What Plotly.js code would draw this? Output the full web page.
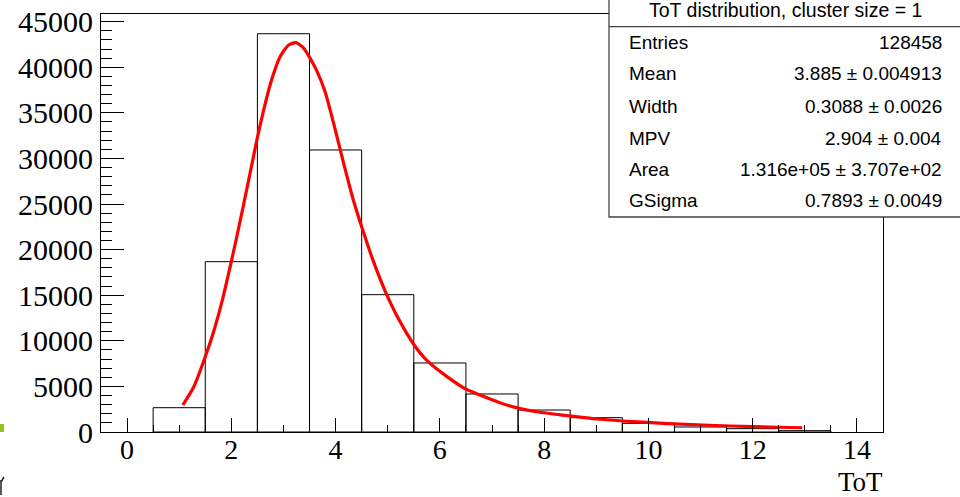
<!DOCTYPE html>
<html>
<head>
<meta charset="utf-8">
<script src="https://cdn.plot.ly/plotly-3.0.1.min.js"></script>
<style>
html,body{margin:0;padding:0;background:#fff;}
#chart{width:960px;height:497px;}
</style>
</head>
<body>
<div id="chart"></div>
<script>
// ---- data ----
const binCenters = [1, 2, 3, 4, 5, 6, 7, 8, 9, 10, 11, 12, 13];
const binCounts  = [2665, 18680, 43680, 30930, 15060, 7570, 4170, 2410, 1570, 950, 550, 365, 145];

const fitX = [1.07, 1.28, 1.5, 1.66, 1.82, 1.98, 2.1, 2.23, 2.36, 2.5, 2.62, 2.75, 2.94, 3.1, 3.24, 3.38, 3.51, 3.64, 3.8, 3.96, 4.09, 4.22, 4.34, 4.5, 4.72, 4.98, 5.17, 5.5, 5.75, 6.13, 6.5, 6.77, 7.15, 7.5, 7.92, 8.49, 8.94, 9.58, 10.22, 10.49, 11.56, 12.5, 12.95];
const fitY = [2960, 4970, 8260, 11000, 14300, 18200, 21300, 24800, 28400, 32300, 35300, 38200, 41200, 42450, 42700, 42150, 41000, 39600, 37300, 33900, 30930, 28000, 25440, 22500, 18800, 15060, 12800, 9600, 7850, 6100, 4700, 4060, 3220, 2620, 2170, 1760, 1470, 1180, 970, 890, 660, 520, 465];

const statsTitle  = 'ToT distribution, cluster size = 1';
const statsLabels = ['Entries', 'Mean', 'Width', 'MPV', 'Area', 'GSigma'];
const statsValues = ['128458', '3.885 \u00b1 0.004913', '0.3088 \u00b1 0.0026', '2.904 \u00b1 0.004', '1.316e+05 \u00b1 3.707e+02', '0.7893 \u00b1 0.0049'];
const xTitle = 'ToT';

// ---- layout helpers (pixel -> paper) ----
const W = 960, H = 497;
const L = 101, R = 883, T = 14, B = 432;
const px = v => (v - L) / (R - L);
const py = v => (B - v) / (B - T);

const serif = 'Liberation Serif, Times New Roman, serif';
const sans = 'Liberation Sans, Arial, Helvetica, sans-serif';

const traces = [
  {
    type: 'bar', x: binCenters, y: binCounts, width: 1,
    marker: {color: 'rgba(0,0,0,0)', line: {color: '#000', width: 1}},
    hoverinfo: 'x+y', showlegend: false
  },
  {
    type: 'scatter', mode: 'lines', x: fitX, y: fitY,
    line: {color: '#ff0000', width: 3.2, shape: 'spline', smoothing: 0.6},
    showlegend: false
  }
];

const annotations = [];
annotations.push({xref: 'paper', yref: 'paper', x: px(785.5), y: py(10), text: statsTitle,
  showarrow: false, xanchor: 'center', yanchor: 'middle', font: {family: sans, size: 19.5, color: '#000'}});
const rowY = [43, 74, 106, 138, 170, 200];
statsLabels.forEach((lab, i) => {
  annotations.push({xref: 'paper', yref: 'paper', x: px(627), y: py(rowY[i]), text: lab,
    showarrow: false, xanchor: 'left', yanchor: 'middle', font: {family: sans, size: 19, color: '#000'}});
  annotations.push({xref: 'paper', yref: 'paper', x: px(944), y: py(rowY[i]), text: statsValues[i],
    showarrow: false, xanchor: 'right', yanchor: 'middle', font: {family: sans, size: 19, color: '#000'}});
});
annotations.push({xref: 'paper', yref: 'paper', x: px(884), y: py(481.5), text: xTitle,
  showarrow: false, xanchor: 'right', yanchor: 'middle', borderpad: 0,
  font: {family: serif, size: 27, color: '#000'}});

// paper-space path helper for the small cropped glyph at the lower-left edge
const P = (x, y) => px(x) + ',' + py(y);

const shapes = [
  {type: 'rect', xref: 'paper', yref: 'paper', x0: px(609), x1: px(990), y0: py(217), y1: py(-5),
   fillcolor: '#fff', line: {color: '#444', width: 1.3}, layer: 'above'},
  {type: 'line', xref: 'paper', yref: 'paper', x0: px(609), x1: px(990), y0: py(26.7), y1: py(26.7),
   line: {color: '#444', width: 1.3}, layer: 'above'},
  {type: 'rect', xref: 'paper', yref: 'paper', x0: px(0), x1: px(4), y0: py(432), y1: py(424),
   fillcolor: '#8dc21f', line: {width: 0}, layer: 'above'},
  {type: 'path', xref: 'paper', yref: 'paper', layer: 'above',
   path: 'M' + P(1, 480) + 'L' + P(1, 495) + 'M' + P(1, 482) + 'L' + P(4, 477),
   line: {color: '#222', width: 1.5}}
];

const layout = {
  width: W, height: H,
  margin: {l: L, r: W - R, t: T, b: H - B, pad: 0},
  paper_bgcolor: '#fff', plot_bgcolor: '#fff',
  bargap: 0, showlegend: false,
  xaxis: {
    range: [-0.5, 14.5], dtick: 2, tick0: 0,
    ticks: 'inside', ticklen: 14, tickwidth: 1, tickcolor: '#000',
    minor: {dtick: 0.5, ticks: 'inside', ticklen: 7, tickwidth: 1, tickcolor: '#000', showgrid: false},
    showline: true, mirror: true, linecolor: '#000', linewidth: 1,
    showgrid: false, zeroline: false,
    tickfont: {family: serif, size: 28, color: '#000'},
    ticklabelstandoff: -8
  },
  yaxis: {
    range: [0, 45843], dtick: 5000, tick0: 0, tickformat: 'd',
    ticks: 'inside', ticklen: 23, tickwidth: 1, tickcolor: '#000',
    minor: {dtick: 1000, ticks: 'inside', ticklen: 11, tickwidth: 1, tickcolor: '#000', showgrid: false},
    showline: true, mirror: true, linecolor: '#000', linewidth: 1,
    showgrid: false, zeroline: false,
    tickfont: {family: serif, size: 30, color: '#000'},
    ticklabelstandoff: 1
  },
  shapes: shapes,
  annotations: annotations
};

Plotly.newPlot('chart', traces, layout, {displayModeBar: false, staticPlot: true});
</script>
</body>
</html>
